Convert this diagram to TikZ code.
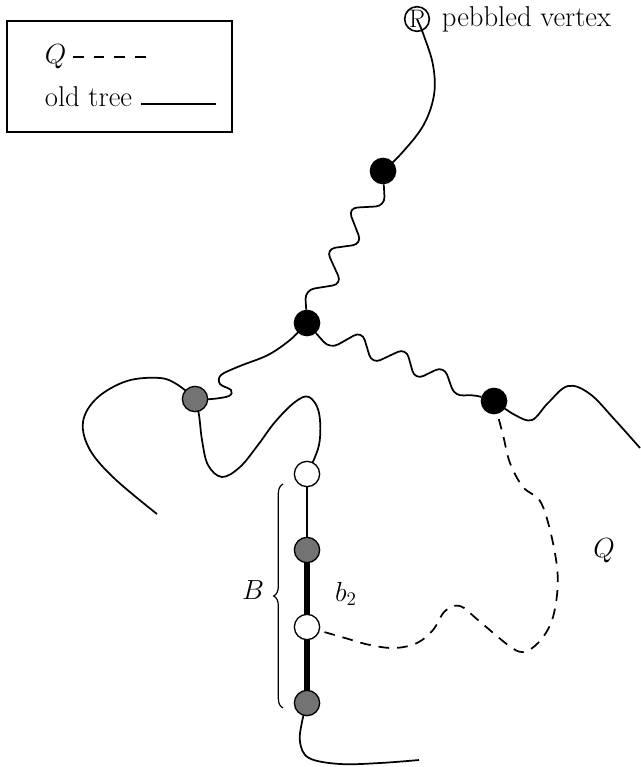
\documentclass[tikz,border=0pt]{standalone}
\usetikzlibrary{backgrounds,decorations.pathreplacing}
\begin{document}
\begin{tikzpicture}[x=0.75pt,y=-0.75pt,line width=1.3pt,
  font=\fontsize{21.5}{24}\selectfont,
  vtx/.style={circle,draw=black,line width=1pt,inner sep=0pt,minimum size=19pt},
  blackv/.style={vtx,fill=black},
  grayv/.style={vtx,fill=black!55},
  whitev/.style={vtx,fill=white},
  oldtree/.style={line width=1.3pt},
  qpath/.style={line width=1.3pt,dash pattern=on 8pt off 6pt},
  thickedge/.style={line width=4.5pt}]
\useasboundingbox (0,0) rectangle (640,767);

% legend
\node[draw,line width=1.3pt,minimum width=168.75pt,minimum height=83.25pt,inner sep=0pt] (legend) at (119.5,76.5) {};
\node[anchor=west,inner sep=0pt] (lq) at (44,57) {$Q$};
\coordinate (qd1) at (73,57);
\coordinate (qd2) at (151,57);
\draw[line width=0.8pt,dash pattern=on 8pt off 7.5pt] (qd1) -- (qd2);
\node[anchor=west,inner sep=0pt] (lo) at (44,97) {old tree};
\coordinate (ot1) at (141,104);
\coordinate (ot2) at (216,104);
\draw[line width=1pt] (ot1) -- (ot2);

% pebbled vertex
\node[circle,draw,line width=1.2pt,inner sep=0pt,minimum size=18.5pt] (P) at (417,19) {\fontsize{19}{20}\selectfont P};
\node[anchor=west,inner sep=0pt] (pv) at (441,19) {pebbled vertex};

% vertices
\node[blackv] (b1) at (383,171) {};
\node[blackv] (b2) at (307,323) {};
\node[blackv] (b3) at (494,401) {};
\node[grayv] (g1) at (195,399) {};
\node[whitev] (w1) at (307,474) {};
\node[grayv] (g2) at (307,550) {};
\node[whitev] (w2) at (307,627) {};
\node[grayv] (g3) at (307,703) {};

% labels
\node (Bl) at (253,590) {$B$};
\node (b2l) at (346,594) {$b_2$};
\node (Ql) at (604,551) {$Q$};

\coordinate (br1) at (283,708);
\coordinate (br2) at (283,484);
\draw[line width=0.9pt,decorate,decoration={brace,amplitude=7pt}] (br1) -- (br2);

\begin{pgfonlayer}{background}
  % P to b1
  \draw[oldtree] plot[smooth,tension=0.6] coordinates {(b1) (400,155) (423,126) (434,95) (433,65) (424,36) (P)};
  % b1 to b2 wave
  \draw[oldtree,rounded corners=7pt] (b1) -- (385,206) -- (348,208) -- (362,244) -- (326,249) -- (342,284) -- (305,290) -- (b2);
  % b2 to b3 wave
  \draw[oldtree,rounded corners=7pt] (b2) -- (330,349) -- (362,331) -- (372,364) -- (406,348) -- (415,380) -- (444,366) -- (455,397) -- (472,394) -- (b3);
  % b3 right
  \draw[oldtree] plot[smooth,tension=0.6] coordinates {(b3) (515,415) (532,420) (548,403) (568,386) (590,394) (615,420) (640,448)};
  % b2 to g1
  \draw[oldtree] plot[smooth,tension=0.55] coordinates {(b2) (290,340) (268,355) (240,366) (221,375) (220,384) (231,390) (229,396) (212,399) (g1)};
  % g1 left loop
  \draw[oldtree] plot[smooth,tension=0.6] coordinates {(g1) (178,385) (160,378) (127,381) (97,398) (83,422) (90,450) (115,479) (157,514)};
  % g1 down to w1
  \draw[oldtree] plot[smooth,tension=0.6] coordinates {(g1) (199,415) (202,440) (208,465) (222,477) (240,467) (258,445) (275,422) (295,402) (309,397) (319,413) (319,445) (w1)};
  % chain
  \draw[oldtree] (w1) -- (g2);
  \draw[thickedge] (g2) -- (w2);
  \draw[thickedge] (w2) -- (g3);
  % bottom
  \draw[oldtree] plot[smooth,tension=0.6] coordinates {(g3) (302,722) (300,742) (309,758) (340,764) (380,763) (419,760)};
  % Q path
  \draw[qpath] plot[smooth,tension=0.6] coordinates {(b3) (503,435) (510,463) (523,487) (540,501) (550,530) (557,567) (557,595) (551,623) (538,643) (523,652) (508,645) (478,620) (460,606) (445,611) (433,630) (417,643) (395,648) (370,645) (345,638) (w2)};
\end{pgfonlayer}
\end{tikzpicture}
\end{document}
